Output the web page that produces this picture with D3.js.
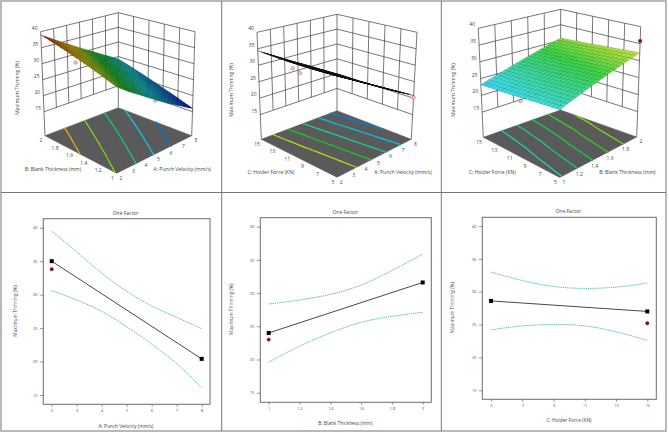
<!DOCTYPE html>
<html>
<head>
<meta charset="utf-8">
<title>Maximum Thinning response</title>
<script src="https://cdn.jsdelivr.net/npm/d3@7/dist/d3.min.js"></script>
<style>
  html, body { margin: 0; padding: 0; background: #fff; }
  svg { display: block; }
  text { font-family: "Open Sans", "Noto Sans", sans-serif; fill: #444; }
</style>
</head>
<body>
<svg id="figure" width="669" height="433"></svg>
<script>
// Factor tick values
const velocityTicks = [2, 3, 4, 5, 6, 7, 8];
const thicknessTicks = [1, 1.2, 1.4, 1.6, 1.8, 2];
const forceTicks = [5, 7, 9, 11, 13, 15];
const thinningTicks = [15, 20, 25, 30, 35, 40];

// Response surfaces: one row per value of the second factor
const surfaceVelocityThickness = [
  [30.8, 28.3, 25.9, 23.4, 20.9, 18.5, 16.0],
  [32.4, 30.0, 27.5, 25.0, 22.6, 20.1, 17.7],
  [34.1, 31.6, 29.2, 26.7, 24.2, 21.8, 19.3],
  [35.7, 33.3, 30.8, 28.3, 25.9, 23.4, 21.0],
  [37.4, 34.9, 32.4, 30.0, 27.5, 25.1, 22.6],
  [39.0, 36.5, 34.1, 31.6, 29.2, 26.7, 24.2]
];
const surfaceVelocityForce = [
  [36.0, 33.5, 30.9, 28.4, 25.9, 23.4, 20.8],
  [35.7, 33.2, 30.6, 28.1, 25.6, 23.1, 20.5],
  [35.4, 32.9, 30.3, 27.8, 25.3, 22.8, 20.2],
  [35.0, 32.5, 30.0, 27.5, 25.0, 22.5, 19.9],
  [34.7, 32.2, 29.7, 27.1, 24.6, 22.1, 19.6],
  [34.4, 31.9, 29.3, 26.8, 24.3, 21.8, 19.2]
];
const surfaceThicknessForce = [
  [24.8, 26.3, 27.8, 29.3, 30.8, 32.3],
  [24.5, 26.0, 27.5, 29.0, 30.5, 32.0],
  [24.2, 25.7, 27.2, 28.7, 30.2, 31.7],
  [23.8, 25.3, 26.8, 28.3, 29.8, 31.3],
  [23.5, 25.0, 26.5, 28.0, 29.5, 31.0],
  [23.2, 24.7, 26.2, 27.7, 29.2, 30.7]
];

// Contour levels projected on the floor of each surface plot
const contoursVelocityThickness = [35, 31, 27, 23.5, 20];
const contoursVelocityForce = [32, 29, 26, 23, 20.5];
const contoursThicknessForce = [25, 26.5, 28, 29.5, 31];

// Design points: [first factor, second factor, thinning]
const pointsBelowVT = [[2, 1.55, 33.8], [8, 1.5, 14.4]];
const pointsBelowVF = [[2, 10.6, 33], [2, 9.7, 32.4], [8, 5, 20.2]];
const pointsBelowTF = [[1, 10, 23]];
const pointsAboveTF = [[2, 5, 35.8]];

// One-factor effect curves
const velocityMean = [[2, 35.0], [8, 20.4]];
const velocityUpper = [39.5, 36.4, 33.2, 30.5, 28.3, 26.6, 24.9];
const velocityLower = [30.6, 29.2, 27.5, 25.2, 22.6, 19.7, 16.1];
const velocityObserved = [[2, 33.8]];

const thicknessMean = [[1, 24.0], [2, 31.6]];
const thicknessUpper = [28.35, 28.96, 29.8, 31.2, 33.4, 35.9];
const thicknessLower = [19.6, 22.0, 24.0, 25.6, 26.5, 27.1];
const thicknessObserved = [[1, 23.0]];

const forceMean = [[5, 28.6], [15, 27.0]];
const forceUpper = [33.0, 31.7, 30.8, 30.5, 30.7, 31.3];
const forceLower = [24.2, 24.8, 25.0, 24.8, 23.9, 22.6];
const forceObserved = [[15, 25.2]];

const yTitle = "Maximum Thinning (%)";
const velocityTitle = "A: Punch Velocity  (mm/s)";
const thicknessTitle = "B: Blank Thickness (mm)";
const forceTitle = "C: Holder Force  (KN)";

const svg = d3.select("#figure");
const FLOOR_Z = 7.5;

// Rainbow ramp shared by surfaces and contour lines
const ramp = d3.scaleLinear()
  .domain([16, 21, 24, 27, 29, 32, 34, 36, 39])
  .range(["#0000d0", "#0090e0", "#10d8e0", "#10d070", "#10d020", "#b0e010", "#f0d000", "#f09010", "#e02000"])
  .clamp(true);

function text(g, x, y, s, size, rotate) {
  const t = g.append("text")
    .attr("text-anchor", "middle")
    .attr("dominant-baseline", "middle")
    .attr("font-size", size)
    .text(s);
  t.attr("transform", `translate(${x},${y})` + (rotate ? ` rotate(${rotate})` : ""));
  return t;
}

// Frame around the six cells
const frame = svg.append("g").attr("fill", "none");
frame.append("rect").attr("x", 1).attr("y", 1).attr("width", 665).attr("height", 430)
  .attr("stroke", "#a8a8a8").attr("stroke-width", 1.6);
[[221.7, 1, 221.7, 431], [441.3, 1, 441.3, 431], [1, 192.5, 666, 192.5]].forEach(l => {
  frame.append("line").attr("x1", l[0]).attr("y1", l[1]).attr("x2", l[2]).attr("y2", l[3])
    .attr("stroke", "#777").attr("stroke-width", 1);
});

function surfacePlot(cfg) {
  const g = svg.append("g");
  const u = d3.scaleLinear().domain(d3.extent(cfg.xTicks)).range([0, 1]);
  const v = d3.scaleLinear().domain(d3.extent(cfg.yTicks)).range([0, 1]);
  const w = d3.scaleLinear().domain([FLOOR_Z, 40]).range([0, 1]);
  const path = d3.line();

  // Box corners blended by factor position and height
  function project(a, b, z) {
    const s = u(a), t = v(b), h = w(z);
    const blend = c => [0, 1].map(k =>
      (1 - s) * (1 - t) * c.F[k] + s * (1 - t) * c.R[k] + (1 - s) * t * c.L[k] + s * t * c.B[k]);
    const lo = blend(cfg.floor), hi = blend(cfg.top);
    return [lo[0] + (hi[0] - lo[0]) * h, lo[1] + (hi[1] - lo[1]) * h];
  }

  const xMin = cfg.xTicks[0], xMax = cfg.xTicks[cfg.xTicks.length - 1];
  const yMin = cfg.yTicks[0], yMax = cfg.yTicks[cfg.yTicks.length - 1];

  // Walls
  const walls = g.append("g").attr("fill", "none").attr("stroke", "#3c3c3c").attr("stroke-width", 0.7);
  const seg = (p, q) => walls.append("path").attr("d", path([p, q]));
  thinningTicks.forEach(z => {
    seg(project(xMin, yMax, z), project(xMax, yMax, z));
    seg(project(xMax, yMax, z), project(xMax, yMin, z));
  });
  cfg.xTicks.slice(1, -1).forEach(a => seg(project(a, yMax, 15), project(a, yMax, 40)));
  cfg.yTicks.slice(1, -1).forEach(b => seg(project(xMax, b, 15), project(xMax, b, 40)));
  seg(project(xMin, yMax, FLOOR_Z), project(xMin, yMax, 40));
  seg(project(xMax, yMax, FLOOR_Z), project(xMax, yMax, 40));
  seg(project(xMax, yMin, FLOOR_Z), project(xMax, yMin, 40));

  // Floor
  g.append("path")
    .attr("d", path([project(xMin, yMin, FLOOR_Z), project(xMax, yMin, FLOOR_Z),
                     project(xMax, yMax, FLOOR_Z), project(xMin, yMax, FLOOR_Z)]) + "Z")
    .attr("fill", "#5a5a5a").attr("stroke", "#555").attr("stroke-width", 0.5);

  // Contour segments from the triangles of the value table
  const contours = g.append("g").attr("fill", "none").attr("stroke-width", 1.2).attr("stroke-linecap", "round");
  cfg.levels.forEach(level => {
    const crossing = (p, q) => {
      if ((p[2] - level) * (q[2] - level) > 0 || p[2] === q[2]) return null;
      const f = (level - p[2]) / (q[2] - p[2]);
      return [p[0] + (q[0] - p[0]) * f, p[1] + (q[1] - p[1]) * f];
    };
    cfg.values.forEach((row, j) => {
      if (j === cfg.values.length - 1) return;
      row.forEach((val, i) => {
        if (i === row.length - 1) return;
        const p00 = [cfg.xTicks[i], cfg.yTicks[j], val];
        const p10 = [cfg.xTicks[i + 1], cfg.yTicks[j], row[i + 1]];
        const p01 = [cfg.xTicks[i], cfg.yTicks[j + 1], cfg.values[j + 1][i]];
        const p11 = [cfg.xTicks[i + 1], cfg.yTicks[j + 1], cfg.values[j + 1][i + 1]];
        [[p00, p10, p11], [p00, p11, p01]].forEach(tri => {
          const hits = [crossing(tri[0], tri[1]), crossing(tri[1], tri[2]), crossing(tri[2], tri[0])].filter(Boolean);
          if (hits.length >= 2) {
            contours.append("path")
              .attr("d", path([project(hits[0][0], hits[0][1], FLOOR_Z), project(hits[1][0], hits[1][1], FLOOR_Z)]))
              .attr("stroke", ramp(level));
          }
        });
      });
    });
  });

  const drawPoints = (pts, fill, stroke) => g.append("g").selectAll("circle").data(pts).join("circle")
    .attr("cx", d => project(d[0], d[1], d[2])[0])
    .attr("cy", d => project(d[0], d[1], d[2])[1])
    .attr("r", 1.7).attr("fill", fill).attr("stroke", stroke).attr("stroke-width", 0.5);
  drawPoints(cfg.below, "#f6c9c9", "#a84a4a");

  // Surface patches, far corner first
  const patches = g.append("g");
  const sx = cfg.subX, sy = cfg.subY;
  const at = (i, j, fx, fy) => {
    const r = cfg.values;
    const z = (1 - fx) * (1 - fy) * r[j][i] + fx * (1 - fy) * r[j][i + 1] + (1 - fx) * fy * r[j + 1][i] + fx * fy * r[j + 1][i + 1];
    const a = cfg.xTicks[i] + (cfg.xTicks[i + 1] - cfg.xTicks[i]) * fx;
    const b = cfg.yTicks[j] + (cfg.yTicks[j + 1] - cfg.yTicks[j]) * fy;
    return [a, b, z];
  };
  for (let j = cfg.values.length - 2; j >= 0; j--) {
    for (let i = cfg.xTicks.length - 2; i >= 0; i--) {
      for (let n = sy - 1; n >= 0; n--) {
        for (let m = sx - 1; m >= 0; m--) {
          const q = [at(i, j, m / sx, n / sy), at(i, j, (m + 1) / sx, n / sy),
                     at(i, j, (m + 1) / sx, (n + 1) / sy), at(i, j, m / sx, (n + 1) / sy)];
          const mean = d3.mean(q, d => d[2]);
          const c = d3.color(ramp(mean));
          patches.append("path")
            .attr("d", path(q.map(d => project(d[0], d[1], d[2]))) + "Z")
            .attr("fill", cfg.tint(c))
            .attr("stroke", cfg.mesh(c))
            .attr("stroke-width", cfg.meshWidth);
        }
      }
    }
  }
  drawPoints(cfg.above, "#8e1010", "#5a0808");

  // Tick labels and titles
  const tick = g.append("g");
  cfg.xTicks.forEach(a => {
    const p = project(a, yMin, FLOOR_Z);
    text(tick, p[0] + 4.2, p[1] + 5, a, 5);
  });
  cfg.yTicks.forEach(b => {
    const p = project(xMin, b, FLOOR_Z);
    text(tick, p[0] - 4.2, p[1] + 5, b, 5);
  });
  thinningTicks.forEach(z => {
    const p = project(xMin, yMax, z);
    text(tick, p[0] - 6, p[1] - 3.3, z, 5);
  });
  text(tick, cfg.yLabel[0], cfg.yLabel[1], yTitle, 5, -90);
  text(tick, cfg.leftLabel[0], cfg.leftLabel[1], cfg.leftTitle, 5);
  text(tick, cfg.rightLabel[0], cfg.rightLabel[1], cfg.rightTitle, 5);
}

surfacePlot({
  xTicks: velocityTicks, yTicks: thicknessTicks, values: surfaceVelocityThickness,
  levels: contoursVelocityThickness, below: pointsBelowVT, above: [],
  subX: 3, subY: 4, meshWidth: 0.35,
  tint: c => c.darker(1.35).formatHex(), mesh: c => c.darker(1.9).formatHex(),
  floor: { L: [45, 135.7], F: [116.7, 173.3], R: [191.7, 135.7], B: [118.3, 107.7] },
  top: { L: [40.7, 31.7], F: [117.5, 53.3], R: [195, 31.7], B: [118.3, 12.7] },
  yLabel: [17.3, 88], leftLabel: [53, 170], rightLabel: [182.3, 169.3],
  leftTitle: thicknessTitle, rightTitle: velocityTitle
});

surfacePlot({
  xTicks: velocityTicks, yTicks: forceTicks, values: surfaceVelocityForce,
  levels: contoursVelocityForce, below: pointsBelowVF, above: [],
  subX: 3, subY: 4, meshWidth: 0.3,
  tint: c => "#222", mesh: c => "#111",
  floor: { L: [261.3, 139.3], F: [337, 177.3], R: [411.3, 139.3], B: [337, 110.7] },
  top: { L: [257, 32.3], F: [337, 59.5], R: [417, 32.3], B: [337, 14.3] },
  yLabel: [232, 90], leftLabel: [271, 172.7], rightLabel: [403, 172.7],
  leftTitle: forceTitle, rightTitle: velocityTitle
});

surfacePlot({
  xTicks: thicknessTicks, yTicks: forceTicks, values: surfaceThicknessForce,
  levels: contoursThicknessForce, below: pointsBelowTF, above: pointsAboveTF,
  subX: 4, subY: 4, meshWidth: 0.35,
  tint: c => d3.interpolateRgb(c, "#ffffff")(0.2), mesh: c => c.darker(1.1).formatHex(),
  floor: { L: [483.3, 137.3], F: [559.7, 177.5], R: [636.7, 137], B: [560.5, 110] },
  top: { L: [478.3, 28.3], F: [560, 50], R: [640.7, 26.7], B: [560.7, 9.3] },
  yLabel: [453.3, 90], leftLabel: [492.3, 172.3], rightLabel: [627.3, 172.3],
  leftTitle: forceTitle, rightTitle: thicknessTitle
});

function effectPlot(cfg) {
  const g = svg.append("g");
  const x = d3.scaleLinear().domain(d3.extent(cfg.ticks)).range(cfg.xRange);
  const y = d3.scaleLinear().domain([15, 40]).range(cfg.yRange);

  g.append("rect")
    .attr("x", cfg.box[0]).attr("y", cfg.box[1])
    .attr("width", cfg.box[2] - cfg.box[0]).attr("height", cfg.box[3] - cfg.box[1])
    .attr("fill", "none").attr("stroke", "#6c6c6c").attr("stroke-width", 1);

  const xAxis = g.append("g").attr("transform", `translate(0,${cfg.box[3]})`)
    .call(d3.axisBottom(x).tickValues(cfg.ticks).tickSize(2.5).tickPadding(3).tickFormat(d => d));
  const yAxis = g.append("g").attr("transform", `translate(${cfg.box[0]},0)`)
    .call(d3.axisLeft(y).tickValues(thinningTicks).tickSize(3.5).tickPadding(2.5).tickFormat(d => d));
  [xAxis, yAxis].forEach(a => {
    a.select(".domain").remove();
    a.selectAll("line").attr("stroke", "#555").attr("stroke-width", 0.6);
    a.selectAll("text").attr("font-size", 3.8).attr("font-family", null);
  });

  const band = d3.line().x((d, i) => x(cfg.ticks[i])).y(d => y(d)).curve(d3.curveCatmullRom);
  [cfg.upper, cfg.lower].forEach(series => {
    g.append("path").attr("d", band(series)).attr("fill", "none")
      .attr("stroke", "#3fae9f").attr("stroke-width", 0.8).attr("stroke-dasharray", "1.4 0.7");
  });

  const meanLine = d3.line().x(d => x(d[0])).y(d => y(d[1]));
  g.append("path").attr("d", meanLine(cfg.mean)).attr("fill", "none")
    .attr("stroke", "#333").attr("stroke-width", 0.9);
  g.selectAll("rect.mean").data(cfg.mean).join("rect").attr("class", "mean")
    .attr("x", d => x(d[0]) - 2).attr("y", d => y(d[1]) - 2)
    .attr("width", 4).attr("height", 4).attr("fill", "#000");
  g.selectAll("circle").data(cfg.observed).join("circle")
    .attr("cx", d => x(d[0])).attr("cy", d => y(d[1])).attr("r", 1.7)
    .attr("fill", "#8e1010").attr("stroke", "#3a0808").attr("stroke-width", 0.4);

  text(g, cfg.title[0], cfg.title[1], "One Factor", 5);
  text(g, cfg.xLabel[0], cfg.xLabel[1], cfg.xTitle, 4.8);
  text(g, cfg.yLabel[0], cfg.yLabel[1], yTitle, 4.8, -90);
}

effectPlot({
  ticks: velocityTicks, upper: velocityUpper, lower: velocityLower,
  mean: velocityMean, observed: velocityObserved, xTitle: velocityTitle,
  box: [43.3, 218.7, 210, 404.3], xRange: [51.7, 201.7], yRange: [395, 227.7],
  title: [125.5, 214], xLabel: [126, 426.7], yLabel: [15.3, 311]
});

effectPlot({
  ticks: thicknessTicks, upper: thicknessUpper, lower: thicknessLower,
  mean: thicknessMean, observed: thicknessObserved, xTitle: thicknessTitle,
  box: [260.3, 217.7, 431.3, 402.3], xRange: [268.7, 422.7], yRange: [392.7, 226.7],
  title: [345.3, 213], xLabel: [345.3, 423.7], yLabel: [231.3, 309.3]
});

effectPlot({
  ticks: forceTicks, upper: forceUpper, lower: forceLower,
  mean: forceMean, observed: forceObserved, xTitle: forceTitle,
  box: [482.3, 217.3, 656.3, 399.3], xRange: [491, 647.3], yRange: [390.3, 226],
  title: [568.3, 212], xLabel: [569, 421], yLabel: [453, 307.7]
});
</script>
</body>
</html>
